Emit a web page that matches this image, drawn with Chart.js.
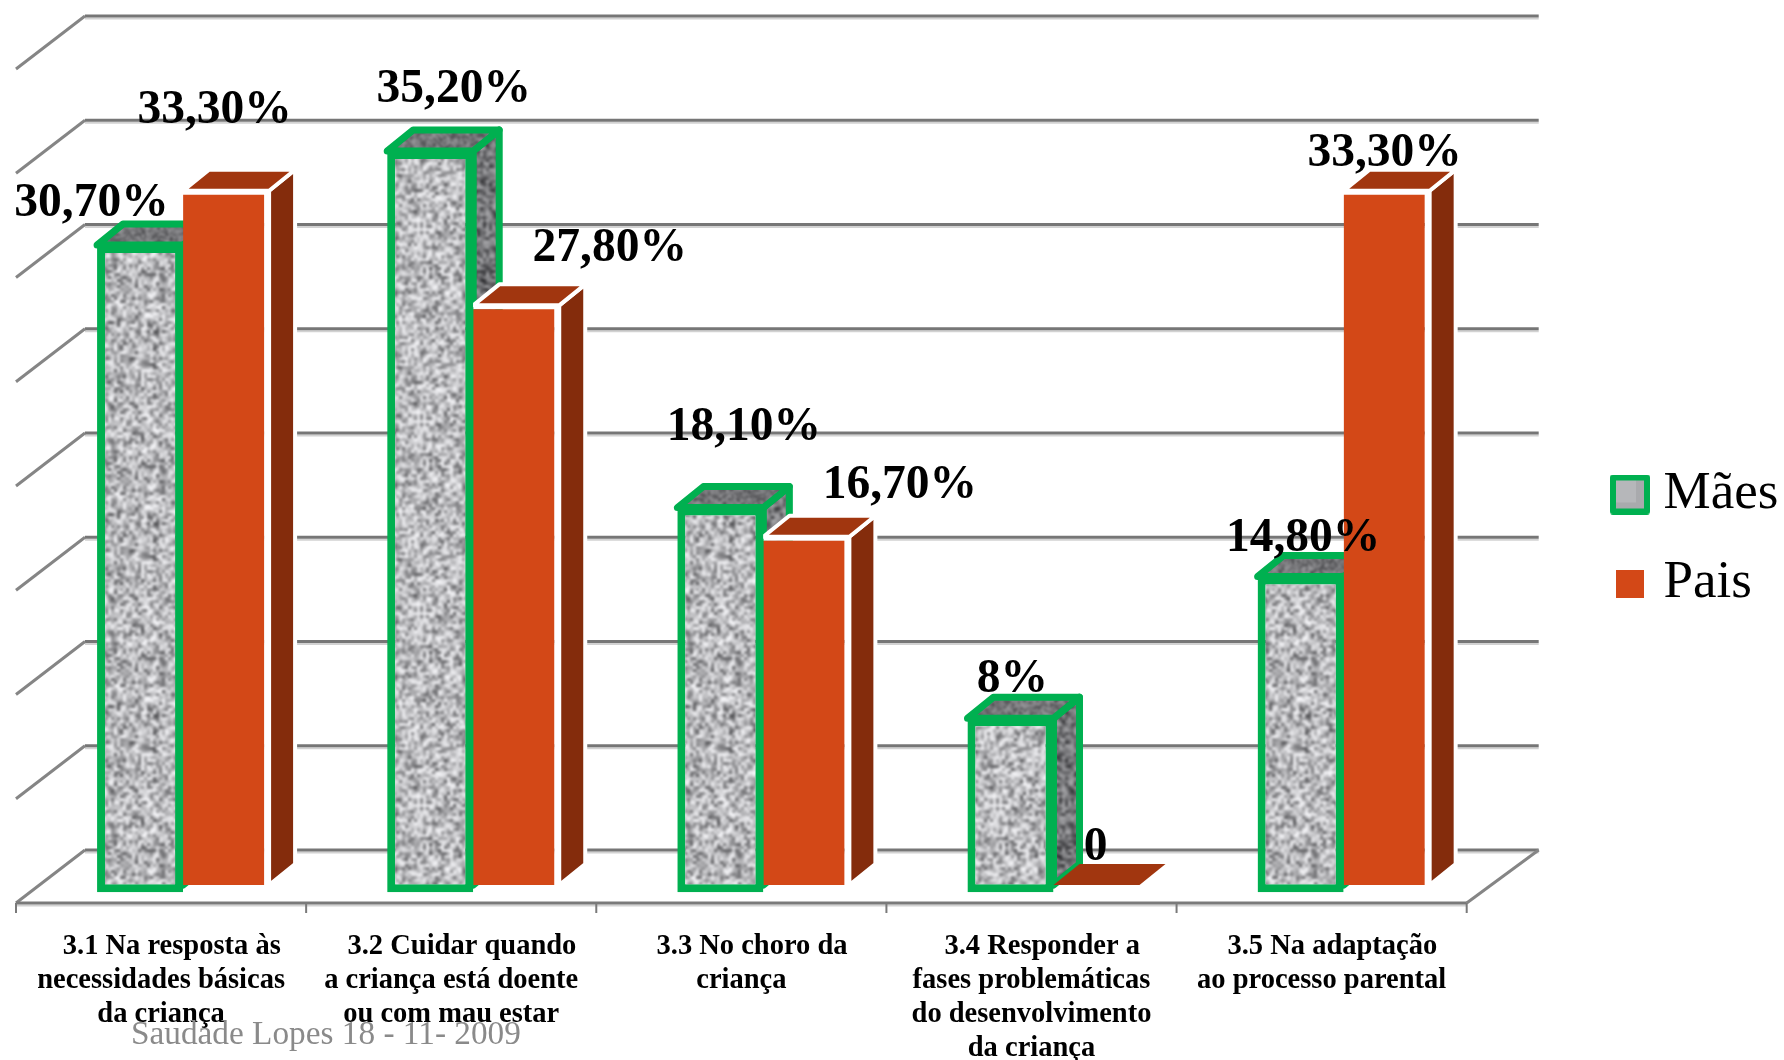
<!DOCTYPE html>
<html>
<head>
<meta charset="utf-8">
<title>Mães e Pais</title>
<style>
  html, body { margin: 0; padding: 0; background: #fff; }
  canvas { display: block; }
</style>
<script src="https://cdn.jsdelivr.net/npm/chart.js@4/dist/chart.umd.min.js"></script>
</head>
<body>
<canvas id="grafico" width="1784" height="1060"></canvas>
<script>
// dados
var categorias = [
    ['   3.1 Na resposta às', 'necessidades básicas', 'da criança'],
    ['   3.2 Cuidar quando', 'a criança está doente', 'ou com mau estar'],
    ['   3.3 No choro da', 'criança'],
    ['   3.4 Responder a', 'fases problemáticas', 'do desenvolvimento', 'da criança'],
    ['   3.5 Na adaptação', 'ao processo parental']
];
var valoresMaes = [30.7, 35.2, 18.1, 8, 14.8];
var valoresPais = [33.3, 27.8, 16.7, 0, 33.3];
var rotulosMaes = ['30,70%', '35,20%', '18,10%', '8%', '14,80%'];
var rotulosPais = ['33,30%', '27,80%', '16,70%', '0', '33,30%'];
var serieNomes = ['Mães', 'Pais'];
var rodape = 'Saudade Lopes 18 - 11- 2009';

var VERDE = '#00B050', LARANJA = '#D34817', LARANJA_TOPO = '#A1360F', LARANJA_LADO = '#842C0C';
var SERIF = '"Liberation Serif", serif';

// textura de granito (ruído determinístico, só decoração)
function textura(claro, escuro, escala) {
    var n = 64, seed = 12345 + escala;
    var peq = document.createElement('canvas');
    peq.width = peq.height = n * 3;
    var pc = peq.getContext('2d');
    var img = pc.createImageData(n, n);
    for (var i = 0; i < n * n; i++) {
        seed = (Math.imul(seed, 1664525) + 1013904223) >>> 0;
        var r = seed / 4294967296;
        var v = escuro + (claro - escuro) * Math.pow(r, 0.6);
        img.data[i * 4] = v; img.data[i * 4 + 1] = v; img.data[i * 4 + 2] = v + 3; img.data[i * 4 + 3] = 255;
    }
    // repete 3x3 para a emenda não aparecer
    for (var a = 0; a < 3; a++) {
        for (var b = 0; b < 3; b++) pc.putImageData(img, a * n, b * n);
    }
    var grande = document.createElement('canvas');
    grande.width = grande.height = n * escala;
    var gc = grande.getContext('2d');
    gc.imageSmoothingEnabled = true;
    gc.filter = 'blur(1px)';
    gc.drawImage(peq, -n * escala, -n * escala, 3 * n * escala, 3 * n * escala);
    return gc.createPattern(grande, 'repeat');
}
var ctxBase = document.getElementById('grafico').getContext('2d');
var granito = textura(250, 70, 3);
var granitoLado = textura(170, 35, 3);
var granitoTopo = textura(155, 50, 2);

// quadradinhos da legenda
function quadradoMaes() {
    var c = document.createElement('canvas');
    c.width = c.height = 40;
    var g = c.getContext('2d');
    g.fillStyle = '#A9AAAD'; g.fillRect(3, 3, 34, 34);
    g.fillStyle = '#B6B7BA'; g.fillRect(6, 6, 20, 22);
    g.strokeStyle = VERDE; g.lineWidth = 6; g.lineJoin = 'round';
    g.strokeRect(3, 3, 34, 34);
    return c;
}
function quadradoPais() {
    var c = document.createElement('canvas');
    c.width = c.height = 28;
    var g = c.getContext('2d');
    g.fillStyle = LARANJA; g.fillRect(0, 0, 28, 28);
    return c;
}
var simbolos = [quadradoMaes(), quadradoPais()];

function poligono(ctx, pts, fill, stroke, lw) {
    ctx.beginPath();
    pts.forEach(function (p, i) { if (i) ctx.lineTo(p[0], p[1]); else ctx.moveTo(p[0], p[1]); });
    ctx.closePath();
    ctx.fillStyle = fill;
    ctx.fill();
    if (stroke) { ctx.strokeStyle = stroke; ctx.lineWidth = lw; ctx.lineJoin = 'round'; ctx.stroke(); }
}

// paredes, chão e as faces 3D das barras
var cena3d = {
    id: 'cena3d',
    afterLayout: function (chart) {
        var o = chart.options.plugins.cena3d, l = chart.legend;
        l.left = o.legendaX; l.right = o.legendaX + 260;
        l.top = o.legendaY; l.bottom = o.legendaY + 400;
    },
    beforeDatasetsDraw: function (chart) {
        var ctx = chart.ctx, x = chart.scales.x, y = chart.scales.y, o = chart.options.plugins.cena3d;
        var esq = chart.chartArea.left, dir = chart.chartArea.right;
        var fundo = o.fundo, frente = o.frente;
        ctx.save();
        y.ticks.forEach(function (t) {
            var py = y.getPixelForValue(t.value) + fundo.y;
            ctx.strokeStyle = '#D2D2D2'; ctx.lineWidth = 2;
            ctx.beginPath(); ctx.moveTo(esq + fundo.x, py + 2.5); ctx.lineTo(dir + fundo.xDir, py + 2.5); ctx.stroke();
            ctx.strokeStyle = '#767676'; ctx.lineWidth = 3;
            ctx.beginPath(); ctx.moveTo(esq + fundo.x, py); ctx.lineTo(dir + fundo.xDir, py); ctx.stroke();
            // diagonal da parede lateral
            ctx.strokeStyle = '#858585'; ctx.lineWidth = 3;
            ctx.beginPath();
            ctx.moveTo(esq + fundo.x, py);
            ctx.lineTo(esq + frente.x, py + frente.y - fundo.y);
            ctx.stroke();
        });
        // chão
        var base = y.getPixelForValue(0);
        ctx.strokeStyle = '#858585'; ctx.lineWidth = 3;
        ctx.beginPath();
        ctx.moveTo(dir + fundo.xDir, base + fundo.y);
        ctx.lineTo(dir + frente.x, base + frente.y);
        ctx.stroke();
        ctx.strokeStyle = '#D2D2D2'; ctx.lineWidth = 2;
        ctx.beginPath(); ctx.moveTo(esq + frente.x, base + frente.y + 2.5); ctx.lineTo(dir + frente.x, base + frente.y + 2.5); ctx.stroke();
        ctx.strokeStyle = '#7A7A7A'; ctx.lineWidth = 3;
        ctx.beginPath(); ctx.moveTo(esq + frente.x, base + frente.y); ctx.lineTo(dir + frente.x, base + frente.y); ctx.stroke();
        // marcas do eixo, entre as categorias
        var passo = x.getPixelForValue(1) - x.getPixelForValue(0);
        ctx.lineWidth = 2;
        for (var i = 0; i <= categorias.length; i++) {
            var tx = x.getPixelForValue(0) - passo / 2 + passo * i + frente.x;
            ctx.beginPath(); ctx.moveTo(tx, base + frente.y); ctx.lineTo(tx, base + frente.y + 10); ctx.stroke();
        }
        // faces de cima e do lado
        var d = o.prof;
        [0, 1].forEach(function (ds) {
            chart.getDatasetMeta(ds).data.forEach(function (bar, n) {
                var p = bar.getProps(['x', 'y', 'base', 'width'], true);
                var l = p.x - p.width / 2, r = p.x + p.width / 2, topo = p.y, b = y.getPixelForValue(0);
                var lado = [[r, topo], [r + d.x, topo - d.y], [r + d.x, b - d.y], [r, b]];
                var cima = [[l, topo], [l + d.x, topo - d.y], [r + d.x, topo - d.y], [r, topo]];
                if (ds === 0) {
                    poligono(ctx, lado, granitoLado, VERDE, 7);
                    poligono(ctx, cima, granitoTopo, VERDE, 7);
                } else if (valoresPais[n] === 0) {
                    poligono(ctx, cima, LARANJA_TOPO);
                } else {
                    poligono(ctx, lado, LARANJA_LADO, '#fff', 4);
                    poligono(ctx, cima, LARANJA_TOPO, '#fff', 4);
                }
            });
        });
        ctx.restore();
    },
    afterDraw: function (chart) {
        var ctx = chart.ctx, o = chart.options.plugins.cena3d;
        ctx.save();
        // rótulos de valor
        ctx.font = 'bold ' + o.fonteRotulo + 'px ' + SERIF;
        ctx.fillStyle = '#000';
        ctx.textAlign = 'center';
        ctx.textBaseline = 'alphabetic';
        [rotulosMaes, rotulosPais].forEach(function (rot, ds) {
            chart.getDatasetMeta(ds).data.forEach(function (bar, i) {
                var off = o.deslocRotulos[ds][i];
                ctx.fillText(rot[i], bar.x + off[0], bar.y + off[1]);
            });
        });
        // rodapé
        ctx.font = o.fonteRodape + 'px ' + SERIF;
        ctx.fillStyle = '#8A8A8A';
        ctx.textAlign = 'left';
        ctx.fillText(rodape, o.rodapeX, o.rodapeY);
        ctx.restore();
    }
};

var chart = new Chart(ctxBase, {
    type: 'bar',
    plugins: [cena3d],
    data: {
        labels: categorias,
        datasets: [{
            label: serieNomes[0],
            data: valoresMaes,
            backgroundColor: granito,
            borderColor: VERDE,
            borderWidth: 8,
            borderSkipped: false,
            base: -0.35,
            clip: false
        }, {
            label: serieNomes[1],
            data: valoresPais,
            backgroundColor: LARANJA,
            borderColor: '#fff',
            borderWidth: { top: 4, right: 5, bottom: 0, left: 0 },
            borderSkipped: false,
            clip: false
        }]
    },
    options: {
        responsive: false,
        animation: false,
        devicePixelRatio: 1,
        categoryPercentage: 0.593,
        barPercentage: 1,
        layout: { padding: { top: 51, left: 38, right: 94, bottom: 0 } },
        scales: {
            x: {
                afterFit: function (s) { s.height = 175; },
                grid: { display: false },
                border: { display: false },
                ticks: {
                    autoSkip: false,
                    maxRotation: 0,
                    minRotation: 0,
                    padding: 37,
                    labelOffset: -22,
                    color: '#000',
                    font: { family: SERIF, size: 28.5, weight: 'bold', lineHeight: 1.19 }
                }
            },
            y: {
                display: false,
                min: 0,
                max: 40,
                ticks: { stepSize: 5 }
            }
        },
        plugins: {
            tooltip: { enabled: false },
            legend: {
                position: 'right',
                align: 'start',
                onClick: null,
                labels: {
                    usePointStyle: true,
                    boxWidth: 14,
                    padding: 36,
                    color: '#000',
                    font: { family: SERIF, size: 53 },
                    generateLabels: function () {
                        return serieNomes.map(function (n, i) {
                            return { text: n, pointStyle: simbolos[i], datasetIndex: i, hidden: false, lineWidth: 0, fontColor: '#000' };
                        });
                    }
                }
            },
            cena3d: {
                fundo: { x: 47, xDir: 50, y: -35 },
                frente: { x: -22, y: 18 },
                prof: { x: 26, y: 21 },
                legendaX: 1587,
                legendaY: 432,
                fonteRotulo: 47.5,
                fonteRodape: 33.3,
                rodapeX: 131,
                rodapeY: 1044,
                deslocRotulos: [
                    [[-48.5, -29], [23.5, -49], [23.5, -68], [2, -26], [2.5, -25]],
                    [[-11.5, -68], [93.5, -44], [93.5, -39], [-1, -25], [-2, -25]]
                ]
            }
        }
    }
});
</script>
</body>
</html>
